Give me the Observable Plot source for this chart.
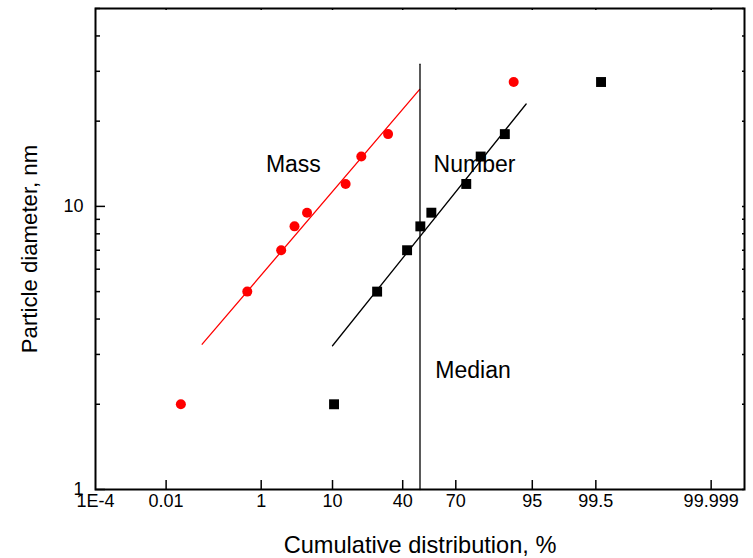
<!DOCTYPE html>
<html>
<head>
<meta charset="utf-8">
<script src="https://cdn.jsdelivr.net/npm/d3@7"></script>
<script src="https://cdn.jsdelivr.net/npm/@observablehq/plot@0.6"></script>
<style>
  body { margin: 0; background: #fff; }
  #chart svg { display: block; }
</style>
</head>
<body>
<div id="chart"></div>
<script>
// ---- Data (cumulative % and particle diameter, nm) ----
const massPct = [0.023, 0.57, 2.1, 3.3, 4.9, 13.8, 19.5, 32, 91.5];
const massDiam = [2, 5, 7, 8.5, 9.5, 12, 15, 18, 27.5];
const numberPct = [10.4, 26.5, 42.5, 50.2, 56.6, 75.1, 81.3, 89.3, 99.6];
const numberDiam = [2, 5, 7, 8.5, 9.5, 12, 15, 18, 27.5];
const massFitPct = [0.071, 49.8];
const massFitDiam = [3.26, 25.9];
const numberFitPct = [10, 94];
const numberFitDiam = [3.22, 23.0];
const medianPct = [50, 50];
const medianDiam = [1, 31.8];
const labelText = ["Mass", "Number", "Median"];
const labelPct = [1.2, 57.9, 58.9];
const labelDiam = [14.0, 14.1, 2.63];
const xTickValues = [1e-4, 0.01, 1, 10, 40, 70, 95, 99.5, 99.999];
const xTickLabels = ["1E-4", "0.01", "1", "10", "40", "70", "95", "99.5", "99.999"];
const xDomainPct = [1e-4, 99.9999];
const yMajorTicks = [1, 10];
const yMinorTicks = [2, 3, 4, 5, 6, 7, 8, 9, 20, 30, 40, 50];
const yDomain = [1, 50];

// ---- Probability (normal quantile) transform, Acklam's approximation ----
function probit(p) {
  const a = [-3.969683028665376e+01, 2.209460984245205e+02, -2.759285104469687e+02, 1.383577518672690e+02, -3.066479806614716e+01, 2.506628277459239e+00];
  const b = [-5.447609879822406e+01, 1.615858368580409e+02, -1.556989798598866e+02, 6.680131188771972e+01, -1.328068155288572e+01];
  const c = [-7.784894002430293e-03, -3.223964580411365e-01, -2.400758277161838e+00, -2.549732539343734e+00, 4.374664141464968e+00, 2.938163982698783e+00];
  const d = [7.784695709041462e-03, 3.224671290700398e-01, 2.445134137142996e+00, 3.754408661907416e+00];
  const pl = 0.02425, ph = 1 - pl;
  let q, r;
  if (p < pl) {
    q = Math.sqrt(-2 * Math.log(p));
    return (((((c[0]*q+c[1])*q+c[2])*q+c[3])*q+c[4])*q+c[5]) / ((((d[0]*q+d[1])*q+d[2])*q+d[3])*q+1);
  } else if (p <= ph) {
    q = p - 0.5; r = q * q;
    return (((((a[0]*r+a[1])*r+a[2])*r+a[3])*r+a[4])*r+a[5])*q / (((((b[0]*r+b[1])*r+b[2])*r+b[3])*r+b[4])*r+1);
  } else {
    q = Math.sqrt(-2 * Math.log(1 - p));
    return -(((((c[0]*q+c[1])*q+c[2])*q+c[3])*q+c[4])*q+c[5]) / ((((d[0]*q+d[1])*q+d[2])*q+d[3])*q+1);
  }
}
const z = (pct) => probit(pct / 100);

const mass = massPct.map((p, i) => ({pct: p, d: massDiam[i]}));
const number = numberPct.map((p, i) => ({pct: p, d: numberDiam[i]}));
const massFit = massFitPct.map((p, i) => ({pct: p, d: massFitDiam[i]}));
const numberFit = numberFitPct.map((p, i) => ({pct: p, d: numberFitDiam[i]}));
const median = medianPct.map((p, i) => ({pct: p, d: medianDiam[i]}));
const labels = labelText.map((t, i) => ({text: t, pct: labelPct[i], d: labelDiam[i]}));
const xTicks = xTickValues.map((v, i) => ({z: z(v), label: xTickLabels[i]}));

const W = 753, H = 558, mL = 95, mR = 9, mT = 8, mB = 69;
const innerW = W - mL - mR, innerH = H - mT - mB;

const fmtX = (v) => {
  let best = xTicks[0];
  for (const t of xTicks) if (Math.abs(t.z - v) < Math.abs(best.z - v)) best = t;
  return best.label;
};

const chart = Plot.plot({
  width: W,
  height: H,
  marginLeft: mL,
  marginRight: mR,
  marginTop: mT,
  marginBottom: mB,
  style: {fontFamily: "'Liberation Sans', Arial, Helvetica, sans-serif", color: "black", background: "white"},
  x: {type: "linear", domain: xDomainPct.map(z)},
  y: {type: "log", domain: yDomain},
  marks: [
    // inward ticks
    Plot.ruleX(xTicks.slice(1), {x: "z", insetTop: innerH - 9, stroke: "black", strokeWidth: 1.5}),
    Plot.ruleX(xTicks.slice(1), {x: "z", insetBottom: innerH - 2, stroke: "black", strokeWidth: 1.5}),
    Plot.ruleY(yMajorTicks, {y: (d) => d, insetRight: innerW - 10, stroke: "black", strokeWidth: 1.5}),
    Plot.ruleY(yMinorTicks, {y: (d) => d, insetRight: innerW - 5, stroke: "black", strokeWidth: 1.5}),
    Plot.ruleY(yMajorTicks.concat(yMinorTicks), {y: (d) => d, insetLeft: innerW - 2, stroke: "black", strokeWidth: 1.5}),
    Plot.axisX({ticks: xTicks.map((t) => t.z), tickFormat: fmtX, tickSize: 0, tickPadding: 5, fontSize: 18, label: null}),
    Plot.axisY({ticks: yMajorTicks, tickFormat: (d) => String(d), tickSize: 0, tickPadding: 12, fontSize: 18, label: null}),
    // fit lines and median
    Plot.line(massFit, {x: (d) => z(d.pct), y: "d", stroke: "#ff0000", strokeWidth: 1.3}),
    Plot.line(numberFit, {x: (d) => z(d.pct), y: "d", stroke: "black", strokeWidth: 1.3}),
    Plot.line(median, {x: (d) => z(d.pct), y: "d", stroke: "black", strokeWidth: 1.3}),
    // points
    Plot.dot(mass, {x: (d) => z(d.pct), y: "d", r: 5, fill: "#ff0000", symbol: "circle"}),
    Plot.dot(number, {x: (d) => z(d.pct), y: "d", r: 5.6, fill: "black", symbol: "square"}),
    // annotations
    Plot.text(labels, {x: (d) => z(d.pct), y: "d", text: "text", textAnchor: "start", fontSize: 23, fill: "black"}),
    // axis titles
    Plot.text(["Cumulative distribution, %"], {frameAnchor: "bottom", textAnchor: "middle", dy: 56, lineAnchor: "middle", fontSize: 23.6, fill: "black"}),
    Plot.text(["Particle diameter, nm"], {frameAnchor: "left", textAnchor: "middle", dx: -66, rotate: -90, lineAnchor: "middle", fontSize: 22.2, fill: "black"}),
    Plot.frame({stroke: "black", strokeWidth: 2})
  ]
});
document.getElementById("chart").append(chart);
</script>
</body>
</html>
